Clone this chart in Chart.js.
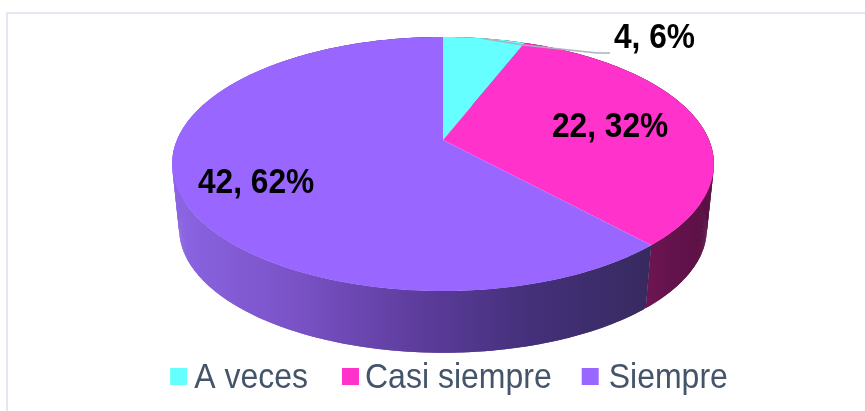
<!DOCTYPE html>
<html><head><meta charset="utf-8">
<style>html,body{margin:0;padding:0;background:#fff}#w{position:relative;width:865px;height:411px;overflow:hidden}</style>
<script src="https://cdn.jsdelivr.net/npm/chart.js@4"></script>
</head><body><div id="w"><canvas id="c" width="865" height="411"></canvas></div>
<script>
const categories = ['A veces', 'Casi siempre', 'Siempre'];
const counts = [4, 22, 42];
const percents = [6, 32, 62];
const topColors = ['#66FFFF', '#FF33CC', '#9966FF'];
const wallStops = [
  [[0, '#2f6f6f'], [1, '#2f6f6f']],
  [[0, '#6d1552'], [1, '#5a1044']],
  [[0, '#8a64e2'], [0.25, '#7a52c6'], [0.5, '#5e3d9e'], [0.75, '#44307a'], [1, '#382a60']]
];
const FONT = '"Liberation Sans", Arial, sans-serif';
const labelSpots = [[614, 38], [552, 127], [198, 183]];
const leader = [[483, 38.5], [523, 45], [597, 53], [610, 53]];
const squareNudge = [-1, 0, -4];

// perspective map of the unit pie disc onto the page
const CX = 443, AX = 266, AY = 122.5, K = 0.189;
const TOP_Y = 140, BOT_Y = 205.6, BOT_S = 0.974;
const LEGEND_Y = 376, TEXT_STRETCH = 1.08;
function rim(theta, apexY, s) {
  const u = Math.sin(theta), v = Math.cos(theta), d = 1 + K * v;
  return [CX + s * AX * u / d, apexY - s * AY * v / d];
}
function sample(a, b) {
  const n = Math.max(2, Math.ceil((b - a) / 0.01)), out = [];
  for (let i = 0; i <= n; i++) out.push(a + (b - a) * i / n);
  return out;
}
const pie3d = {
  id: 'pie3d',
  afterLayout(chart) {
    const legend = chart.legend, draw = legend.draw;
    if (legend._stretched) return;
    legend._stretched = true;
    legend.draw = function (area) {
      const c = chart.ctx;
      c.save();
      c.translate(0, LEGEND_Y);
      c.scale(1, TEXT_STRETCH);
      c.translate(0, -LEGEND_Y);
      draw.call(this, area);
      c.restore();
    };
  },
  beforeDraw(chart) {
    const { ctx } = chart;
    ctx.save();
    ctx.fillStyle = '#e4e6f0';
    ctx.fillRect(6, 12, 859, 2);
    ctx.fillRect(6, 12, 2, 399);
    ctx.restore();
  },
  beforeDatasetDraw(chart, args) {
    const { ctx } = chart;
    const arcs = args.meta.data;
    const rng = arcs.map(a => {
      const p = a.getProps(['startAngle', 'endAngle'], true);
      return [p.startAngle + Math.PI / 2, p.endAngle + Math.PI / 2];
    });
    ctx.save();
    // walls: swept strips so the straight sides of the drum are filled
    arcs.forEach((a, i) => {
      const ts = sample(rng[i][0], rng[i][1]);
      const g = ctx.createLinearGradient(i === 2 ? 178 : 645, 0, i === 2 ? 648 : 708, 0);
      wallStops[i].forEach(s => g.addColorStop(s[0], s[1]));
      ctx.fillStyle = g;
      for (let j = 0; j + 1 < ts.length; j++) {
        const t0 = ts[j], t1 = ts[Math.min(j + 2, ts.length - 1)];
        const a0 = rim(t0, TOP_Y, 1), a1 = rim(t1, TOP_Y, 1), b1 = rim(t1, BOT_Y, BOT_S), b0 = rim(t0, BOT_Y, BOT_S);
        ctx.beginPath();
        ctx.moveTo(a0[0], a0[1]);
        ctx.lineTo(a1[0], a1[1]);
        ctx.lineTo(b1[0], b1[1]);
        ctx.lineTo(b0[0], b0[1]);
        ctx.closePath();
        ctx.fill();
      }
    });
    // top faces
    arcs.forEach((a, i) => {
      ctx.fillStyle = topColors[i];
      ctx.beginPath();
      ctx.moveTo(CX, TOP_Y);
      sample(rng[i][0], rng[i][1]).forEach(t => { const p = rim(t, TOP_Y, 1); ctx.lineTo(p[0], p[1]); });
      ctx.closePath();
      ctx.fill();
    });
    ctx.restore();
    return false;
  },
  afterDraw(chart) {
    const { ctx } = chart;
    ctx.save();
    // leader line
    ctx.strokeStyle = '#a9b3c1';
    ctx.lineWidth = 1.5;
    ctx.beginPath();
    leader.forEach((p, i) => i ? ctx.lineTo(p[0], p[1]) : ctx.moveTo(p[0], p[1]));
    ctx.stroke();
    // value labels
    ctx.fillStyle = '#000';
    ctx.font = 'bold 32px ' + FONT;
    ctx.textBaseline = 'middle';
    ctx.textAlign = 'left';
    counts.forEach((v, i) => {
      ctx.save();
      ctx.translate(labelSpots[i][0], labelSpots[i][1]);
      ctx.scale(0.99, TEXT_STRETCH);
      ctx.fillText(v + ', ' + percents[i] + '%', 0, 0);
      ctx.restore();
    });
    // legend squares
    chart.legend.legendHitBoxes.forEach((h, i) => {
      ctx.fillStyle = topColors[i];
      ctx.fillRect(h.left + squareNudge[i], 368, 17, 17);
    });
    ctx.restore();
  }
};
new Chart(document.getElementById('c'), {
  type: 'pie',
  data: { labels: categories, datasets: [{ data: counts, backgroundColor: topColors, borderWidth: 0 }] },
  options: {
    responsive: false,
    animation: false,
    layout: { padding: { left: 34, bottom: 7 } },
    plugins: {
      tooltip: { enabled: false },
      title: { display: false },
      legend: {
        position: 'bottom',
        labels: {
          font: { family: FONT, size: 32 },
          color: '#44546A',
          padding: 34,
          boxWidth: 7,
          boxHeight: 7,
          generateLabels(chart) {
            return Chart.overrides.pie.plugins.legend.labels.generateLabels(chart).map(l => Object.assign(l, { fillStyle: 'rgba(0,0,0,0)', strokeStyle: 'rgba(0,0,0,0)', lineWidth: 0 }));
          }
        }
      }
    }
  },
  plugins: [pie3d]
});
</script></body></html>
